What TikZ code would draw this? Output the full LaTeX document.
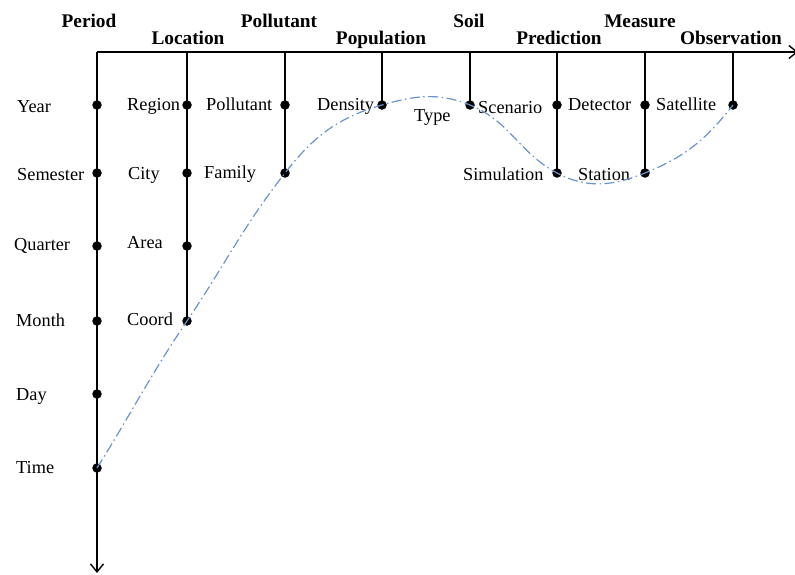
\documentclass[tikz,border=0pt]{standalone}
\usepackage{fontspec}
\setmainfont{Liberation Serif}
\usetikzlibrary{arrows.meta}
\definecolor{curveblue}{RGB}{105,148,205}
\begin{document}
\begin{tikzpicture}[x={(1pt,0pt)},y={(0pt,-1pt)},
  axisline/.style={line width=1.4pt, black},
  dotnode/.style={circle, fill=black, inner sep=0pt, minimum size=9.5pt},
  itemlabel/.style={anchor=base west, inner sep=0pt, font=\fontsize{18.3}{20}\selectfont},
  headlabel/.style={anchor=base, inner sep=0pt, font=\bfseries\fontsize{19.3}{21}\selectfont},
  wave/.style={color=curveblue, line width=1.2pt, dash pattern=on 10pt off 3.5pt on 1.5pt off 3.5pt}]
\useasboundingbox (0,0) rectangle (795,574);

% axes
\coordinate (origin) at (97,52);
\coordinate (xend) at (798,52);
\coordinate (yend) at (97,573);
\draw[axisline, -{Straight Barb[length=8pt,width=13pt]}] (origin) -- (xend);
\draw[axisline, -{Straight Barb[length=8pt,width=13pt]}] (origin) -- (yend);

% column tops on the axis
\coordinate (locTop) at (187,52);
\coordinate (polTop) at (285,52);
\coordinate (popTop) at (382,52);
\coordinate (soiTop) at (470,52);
\coordinate (preTop) at (557,52);
\coordinate (meaTop) at (645,52);
\coordinate (obsTop) at (733,52);

% headers
\node[headlabel] (hPeriod) at (89,27) {Period};
\node[headlabel] (hLocation) at (188,44) {Location};
\node[headlabel] (hPollutant) at (279,27) {Pollutant};
\node[headlabel] (hPopulation) at (381,44) {Population};
\node[headlabel] (hSoil) at (469,27) {Soil};
\node[headlabel] (hPrediction) at (559,44) {Prediction};
\node[headlabel] (hMeasure) at (640,27) {Measure};
\node[headlabel] (hObservation) at (731,44) {Observation};

% dots
\node[dotnode] (dYear) at (97,105) {};
\node[dotnode] (dSemester) at (97,173) {};
\node[dotnode] (dQuarter) at (97,246) {};
\node[dotnode] (dMonth) at (97,321) {};
\node[dotnode] (dDay) at (97,394) {};
\node[dotnode] (dTime) at (97,468) {};
\node[dotnode] (dRegion) at (187,105) {};
\node[dotnode] (dCity) at (187,173) {};
\node[dotnode] (dArea) at (187,246) {};
\node[dotnode] (dCoord) at (187,321) {};
\node[dotnode] (dPollutant) at (285,105) {};
\node[dotnode] (dFamily) at (285,173) {};
\node[dotnode] (dDensity) at (382,105) {};
\node[dotnode] (dScenario) at (470,105) {};
\node[dotnode] (dDetector) at (557,105) {};
\node[dotnode] (dSimulation) at (557,173) {};
\node[dotnode] (dSatellite) at (645,105) {};
\node[dotnode] (dStation) at (645,173) {};
\node[dotnode] (dObservation) at (733,105) {};

% vertical lines
\draw[axisline] (locTop) -- (dCoord.center);
\draw[axisline] (polTop) -- (dFamily.center);
\draw[axisline] (popTop) -- (dDensity.center);
\draw[axisline] (soiTop) -- (dScenario.center);
\draw[axisline] (preTop) -- (dSimulation.center);
\draw[axisline] (meaTop) -- (dStation.center);
\draw[axisline] (obsTop) -- (dObservation.center);

% item labels
\node[itemlabel] (lYear) at (17,112) {Year};
\node[itemlabel] (lSemester) at (17,180) {Semester};
\node[itemlabel] (lQuarter) at (14,250) {Quarter};
\node[itemlabel] (lMonth) at (16,326) {Month};
\node[itemlabel] (lDay) at (16,400) {Day};
\node[itemlabel] (lTime) at (16,473) {Time};
\node[itemlabel] (lRegion) at (127,110) {Region};
\node[itemlabel] (lCity) at (128,179) {City};
\node[itemlabel] (lArea) at (127,248) {Area};
\node[itemlabel] (lCoord) at (127,325) {Coord};
\node[itemlabel] (lPollutant) at (206,110) {Pollutant};
\node[itemlabel] (lFamily) at (204,178) {Family};
\node[itemlabel] (lDensity) at (317,110) {Density};
\node[itemlabel] (lType) at (414,121) {Type};
\node[itemlabel] (lScenario) at (478,113) {Scenario};
\node[itemlabel] (lDetector) at (568,110) {Detector};
\node[itemlabel] (lSatellite) at (656,110) {Satellite};
\node[itemlabel] (lSimulation) at (463,180) {Simulation};
\node[itemlabel] (lStation) at (578,180) {Station};

% dash-dot curve
\draw[wave] (dTime.center) to[out=58,in=236] (dCoord.center)
  to[out=56,in=232] (dFamily.center)
  to[out=52,in=196] (dDensity.center)
  to[out=16,in=158] (dScenario.center)
  to[out=-22,in=152] (dSimulation.center)
  to[out=-28,in=202] (dStation.center)
  to[out=22,in=232] (dObservation.center);
\end{tikzpicture}
\end{document}
